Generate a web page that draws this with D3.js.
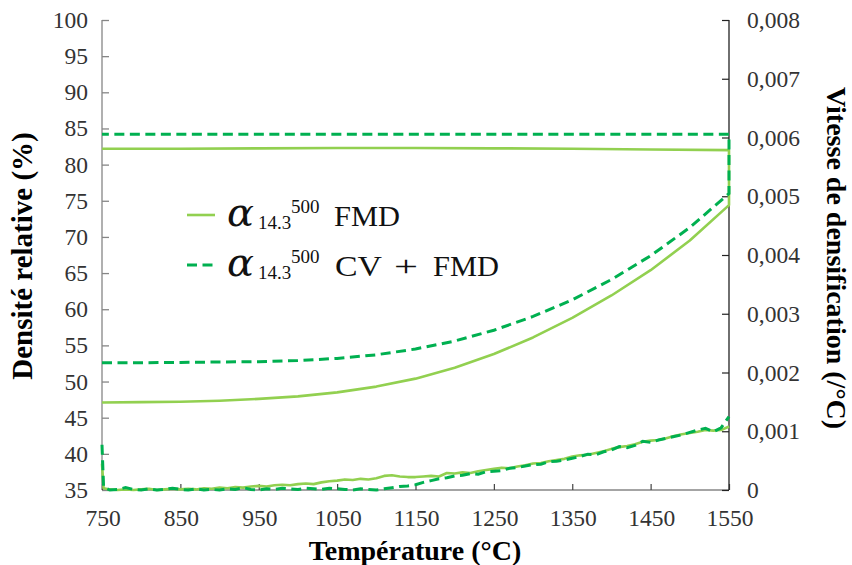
<!DOCTYPE html>
<html>
<head>
<meta charset="utf-8">
<script src="https://cdn.jsdelivr.net/npm/d3@7"></script>
<style>
  html, body { margin: 0; padding: 0; background: #fff; }
  svg { display: block; }
</style>
</head>
<body>
<svg id="chart" width="852" height="565"></svg>
<script>
// ---------------- DATA ----------------
const xTicks = [750, 850, 950, 1050, 1150, 1250, 1350, 1450, 1550];
const yLeftTicks = [35, 40, 45, 50, 55, 60, 65, 70, 75, 80, 85, 90, 95, 100];
const yRightTicks = [0, 0.001, 0.002, 0.003, 0.004, 0.005, 0.006, 0.007, 0.008];
const yRightLabels = ["0", "0,001", "0,002", "0,003", "0,004", "0,005", "0,006", "0,007", "0,008"];

// Relative density (%) : heating 750 -> 1550, dwell at 1550, cooling 1550 -> 750
const densTemp = [750, 800, 850, 900, 950, 1000, 1050, 1100, 1150, 1200, 1250, 1300, 1350, 1400, 1450, 1500, 1550,
                  1550, 1450, 1350, 1250, 1150, 1050, 950, 850, 750];
const densFMD = [47.1, 47.15, 47.2, 47.35, 47.6, 47.95, 48.5, 49.3, 50.4, 51.9, 53.8, 56.1, 58.8, 61.9, 65.4, 69.5, 74.4,
                 82.0, 82.1, 82.2, 82.25, 82.3, 82.3, 82.25, 82.2, 82.2];
const densCVFMD = [52.6, 52.6, 52.65, 52.7, 52.75, 52.9, 53.2, 53.7, 54.5, 55.6, 57.1, 59.0, 61.3, 64.1, 67.4, 71.3, 76.0,
                   84.2, 84.2, 84.2, 84.2, 84.2, 84.2, 84.2, 84.2, 84.2];

// Densification rate (/°C), x 1e-4
const rateTemp = [750, 752, 760, 770, 780, 790, 800, 810, 820, 830, 840, 850, 860, 870, 880, 890, 900, 910, 920, 930, 940,
                  950, 960, 970, 980, 990, 1000, 1010, 1020, 1030, 1040, 1050, 1060, 1070, 1080, 1090, 1100, 1110, 1120,
                  1130, 1140, 1150, 1160, 1170, 1180, 1190, 1200, 1210, 1220, 1230, 1240, 1250, 1260, 1270, 1280, 1290,
                  1300, 1310, 1320, 1330, 1340, 1350, 1360, 1370, 1380, 1390, 1400, 1410, 1420, 1430, 1440, 1450, 1460,
                  1470, 1480, 1490, 1500, 1510, 1520, 1530, 1540, 1550];
const rateFMD = [4.5, 0.3, 0.1, 0.0, 0.1, 0.0, 0.1, 0.2, 0.0, 0.1, 0.2, 0.1, 0.2, 0.1, 0.3, 0.2, 0.4, 0.3, 0.5, 0.4, 0.6,
                 0.7, 0.6, 0.8, 0.9, 0.8, 1.0, 1.1, 1.0, 1.3, 1.5, 1.6, 1.8, 1.7, 1.9, 1.8, 2.0, 2.4, 2.5,
                 2.3, 2.2, 2.2, 2.3, 2.4, 2.3, 2.9, 2.8, 3.0, 2.9, 3.2, 3.4, 3.6, 3.8, 3.7, 4.0, 4.2,
                 4.5, 4.6, 4.9, 5.1, 5.3, 5.7, 5.9, 6.0, 6.3, 6.6, 7.0, 7.3, 7.5, 7.8, 8.2, 8.4, 8.5,
                 8.8, 9.2, 9.5, 9.7, 9.9, 10.2, 10.1, 10.2, 10.8];
const rateCVFMD = [7.7, 0.5, 0.0, 0.1, 0.4, 0.1, 0.0, 0.2, 0.0, 0.1, 0.3, 0.1, 0.0, 0.2, 0.0, 0.1, 0.0, 0.2, 0.1, 0.4, 0.1,
                   0.0, 0.2, 0.1, 0.3, 0.2, 0.1, 0.3, 0.2, 0.1, 0.3, 0.2, 0.1, 0.0, 0.2, 0.1, 0.0, 0.2, 0.4,
                   0.6, 0.7, 0.9, 1.3, 1.6, 1.9, 2.1, 2.4, 2.5, 2.8, 2.7, 3.1, 3.2, 3.3, 3.7, 3.8, 4.1,
                   4.3, 4.4, 4.8, 4.9, 5.1, 5.4, 5.7, 6.1, 6.0, 6.5, 6.8, 7.4, 7.2, 7.6, 8.3, 8.1, 8.5,
                   8.8, 9.1, 9.4, 9.8, 10.2, 10.5, 9.9, 10.6, 12.5];

// ---------------- DRAW ----------------
const svg = d3.select("#chart");
const colFMD = "#92D050";
const colCV = "#00B050";
const serif = "'Liberation Serif'";

const x = d3.scaleLinear().domain([750, 1550]).range([102, 729]);
const yL = d3.scaleLinear().domain([35, 100]).range([490, 20]);
const yR = d3.scaleLinear().domain([0, 0.008]).range([490, 20]);

// Axes
const gLeft = svg.append("g").attr("transform", "translate(102,0)")
  .call(d3.axisRight(yL).tickValues(yLeftTicks).tickSize(7).tickFormat(""));
gLeft.select(".domain").attr("stroke", "#868686").attr("stroke-width", 1.3).attr("d", "M0,20V490");
gLeft.selectAll(".tick line").attr("stroke", "#868686").attr("stroke-width", 1.3);

const gBottom = svg.append("g").attr("transform", "translate(0,490)")
  .call(d3.axisTop(x).tickValues(xTicks).tickSize(6).tickFormat(""));
gBottom.select(".domain").attr("stroke", "#868686").attr("stroke-width", 1.3).attr("d", "M102,0H729");
gBottom.selectAll(".tick line").attr("stroke", "#444").attr("stroke-width", 1.2);

const gRight = svg.append("g").attr("transform", "translate(729,0)")
  .call(d3.axisLeft(yR).tickValues(yRightTicks).tickSize(7).tickFormat(""));
gRight.select(".domain").attr("stroke", "#222").attr("stroke-width", 1.3).attr("d", "M0,20V490");
gRight.selectAll(".tick line").attr("stroke", "#222").attr("stroke-width", 1.2);

// Tick labels
svg.append("g").selectAll("text").data(yLeftTicks).join("text")
  .attr("x", 88).attr("y", d => yL(d) + 8)
  .attr("text-anchor", "end").style("font-family", serif).style("font-size", "23.5px").attr("fill", "#333")
  .text(d => d);
svg.append("g").selectAll("text").data(yRightTicks).join("text")
  .attr("x", 747).attr("y", d => yR(d) + 8)
  .attr("text-anchor", "start").style("font-family", serif).style("font-size", "23.5px").attr("fill", "#333")
  .text((d, i) => yRightLabels[i]);
svg.append("g").selectAll("text").data(xTicks).join("text")
  .attr("x", d => x(d) + 1).attr("y", 526)
  .attr("text-anchor", "middle").style("font-family", serif).style("font-size", "23.5px").attr("fill", "#333")
  .text(d => d);

// Axis titles
svg.append("text").attr("transform", "translate(32,256) rotate(-90)")
  .attr("text-anchor", "middle").style("font-family", serif).style("font-weight", "bold")
  .style("font-size", "29px").attr("fill", "#000").text("Densité relative (%)");
svg.append("text").attr("transform", "translate(827,258) rotate(90)")
  .attr("text-anchor", "middle").style("font-family", serif).style("font-weight", "bold")
  .style("font-size", "28px").attr("fill", "#000").text("Vitesse de densification (/°C)");
svg.append("text").attr("x", 415).attr("y", 560)
  .attr("text-anchor", "middle").style("font-family", serif).style("font-weight", "bold")
  .style("font-size", "28px").attr("fill", "#000").text("Température (°C)");

// Lines
const densLine = vals => d3.line().x((d, i) => x(densTemp[i])).y(d => yL(d))(vals);
const rateLine = vals => d3.line().x((d, i) => x(rateTemp[i])).y(d => yR(d * 1e-4))(vals);

const plot = svg.append("g");
plot.append("path").attr("d", densLine(densFMD)).attr("fill", "none")
  .attr("stroke", colFMD).attr("stroke-width", 2.6).attr("stroke-linejoin", "round");
plot.append("path").attr("d", rateLine(rateFMD)).attr("fill", "none")
  .attr("stroke", colFMD).attr("stroke-width", 2.6).attr("stroke-linejoin", "round");
plot.append("path").attr("d", densLine(densCVFMD)).attr("fill", "none")
  .attr("stroke", colCV).attr("stroke-width", 3).attr("stroke-dasharray", "10,5.5");
plot.append("path").attr("d", rateLine(rateCVFMD)).attr("fill", "none")
  .attr("stroke", colCV).attr("stroke-width", 3).attr("stroke-dasharray", "10,5.5");

// Legend
const legend = [
  { parts: [["FMD", 334, 66]], color: colFMD, dash: null, y: 215 },
  { parts: [["CV", 335, 47], ["+", 394, 24], ["FMD", 433, 66]], color: colCV, dash: "10,5.5", y: 265 }
];
const lg = svg.append("g");
legend.forEach(l => {
  lg.append("line").attr("x1", 187).attr("x2", 215).attr("y1", l.y).attr("y2", l.y)
    .attr("stroke", l.color).attr("stroke-width", l.dash ? 3 : 2.6)
    .attr("stroke-dasharray", l.dash);
  const t = lg.append("text").attr("fill", "#111").style("font-family", serif);
  t.append("tspan").attr("x", 227).attr("y", l.y + 11)
    .style("font-family", "'DejaVu Serif'").style("font-style", "italic").style("font-size", "40px").text("α");
  t.append("tspan").attr("x", 258).attr("y", l.y + 14).style("font-size", "19px").text("14.3");
  t.append("tspan").attr("x", 291).attr("y", l.y - 2).style("font-size", "19px").text("500");
  l.parts.forEach(p => {
    t.append("tspan").attr("x", p[1]).attr("y", l.y + 11).style("font-size", "29px")
      .attr("textLength", p[2]).attr("lengthAdjust", "spacingAndGlyphs").text(p[0]);
  });
});
</script>
</body>
</html>
